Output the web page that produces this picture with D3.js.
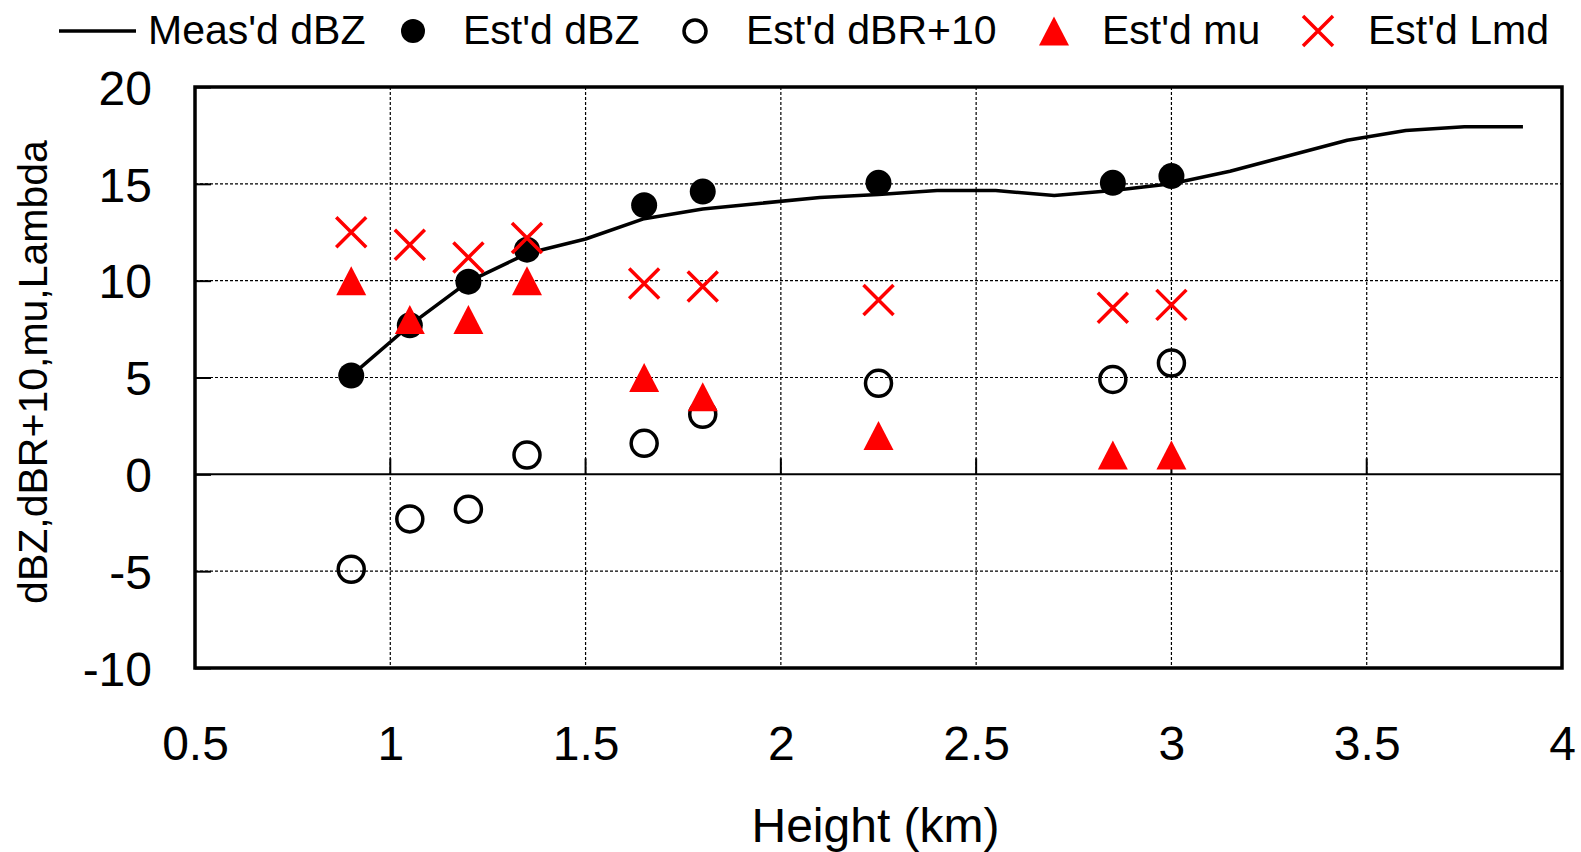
<!DOCTYPE html>
<html>
<head>
<meta charset="utf-8">
<script src="https://cdn.jsdelivr.net/npm/d3@7"></script>
<style>
  body { margin: 0; background: #fff; }
  svg text { font-family: "Liberation Sans", Arial, sans-serif; fill: #000; }
</style>
</head>
<body>
<svg id="chart" width="1581" height="852"></svg>
<script>
// datos
var alturaLinea = [0.9, 1.05, 1.2, 1.35, 1.5, 1.65, 1.8, 1.95, 2.1, 2.25, 2.4, 2.55, 2.7, 2.85, 3.0, 3.15, 3.3, 3.45, 3.6, 3.75, 3.9];
var dbzMedido = [5.1, 7.7, 9.95, 11.4, 12.15, 13.2, 13.7, 14.0, 14.3, 14.45, 14.65, 14.65, 14.4, 14.65, 15.0, 15.65, 16.45, 17.25, 17.75, 17.95, 17.95];

var alturaEst = [0.9, 1.05, 1.2, 1.35, 1.65, 1.8, 2.25, 2.85, 3.0];
var dbzEst = [5.1, 7.7, 9.95, 11.6, 13.9, 14.6, 15.05, 15.05, 15.4];
var dbrEst = [-4.9, -2.3, -1.8, 1.0, 1.6, 3.1, 4.7, 4.9, 5.75];
var muEst = [10, 8, 8, 10, 5, 4, 2, 1, 1];
var lmdEst = [12.5, 11.85, 11.2, 12.2, 9.85, 9.7, 9.0, 8.6, 8.75];

var ticksX = [0.5, 1, 1.5, 2, 2.5, 3, 3.5, 4];
var ticksY = [-10, -5, 0, 5, 10, 15, 20];

var leyenda = ["Meas'd dBZ", "Est'd dBZ", "Est'd dBR+10", "Est'd mu", "Est'd Lmd"];

var margin = {top: 87, right: 19, bottom: 184, left: 195};
var width = 1581 - margin.left - margin.right;
var height = 852 - margin.top - margin.bottom;

var svg = d3.select("#chart");
var g = svg.append("g")
    .attr("transform", "translate(" + margin.left + "," + margin.top + ")");

var x = d3.scaleLinear().domain([0.5, 4]).range([0, width]);
var y = d3.scaleLinear().domain([-10, 20]).range([height, 0]);

// rejilla
g.selectAll(".gridx")
    .data(ticksX.slice(1, -1))
    .enter().append("line")
    .attr("x1", function(d) { return x(d); })
    .attr("x2", function(d) { return x(d); })
    .attr("y1", 0).attr("y2", height)
    .attr("stroke", "#000").attr("stroke-width", 1.2)
    .attr("stroke-dasharray", "3,2");

g.selectAll(".gridy")
    .data(ticksY.filter(function(d) { return d != 0 && d != -10 && d != 20; }))
    .enter().append("line")
    .attr("x1", 0).attr("x2", width)
    .attr("y1", function(d) { return y(d); })
    .attr("y2", function(d) { return y(d); })
    .attr("stroke", "#000").attr("stroke-width", 1.2)
    .attr("stroke-dasharray", "3,2");

// eje horizontal en cero
g.append("line")
    .attr("x1", 0).attr("x2", width)
    .attr("y1", y(0)).attr("y2", y(0))
    .attr("stroke", "#000").attr("stroke-width", 2);

g.selectAll(".tickx")
    .data(ticksX)
    .enter().append("line")
    .attr("x1", function(d) { return x(d); })
    .attr("x2", function(d) { return x(d); })
    .attr("y1", y(0)).attr("y2", y(0) - 16)
    .attr("stroke", "#000").attr("stroke-width", 2);

// eje y
var ejeY = d3.axisLeft(y).tickValues(ticksY).tickSizeInner(-16).tickSizeOuter(0).tickPadding(43)
    .tickFormat(function(d) { return String(d); });
var gy = g.append("g").call(ejeY);
gy.select(".domain").remove();
gy.selectAll("line").attr("stroke", "#000").attr("stroke-width", 2);
gy.selectAll("text")
    .attr("font-size", "48px")
    .attr("font-family", "Liberation Sans, Arial, sans-serif")
    .attr("dy", "0.36em");

// etiquetas x
var ejeX = d3.axisBottom(x).tickValues(ticksX).tickSize(0).tickPadding(58)
    .tickFormat(function(d) { return String(d); });
var gx = g.append("g").attr("transform", "translate(0," + height + ")").call(ejeX);
gx.select(".domain").remove();
gx.selectAll("text")
    .attr("font-size", "48px")
    .attr("font-family", "Liberation Sans, Arial, sans-serif");

// marco
g.append("rect")
    .attr("x", 0).attr("y", 0)
    .attr("width", width).attr("height", height)
    .attr("fill", "none").attr("stroke", "#000").attr("stroke-width", 3.5);

// titulos
svg.append("text")
    .attr("x", margin.left + width / 2 - 3)
    .attr("y", 842)
    .attr("text-anchor", "middle")
    .attr("font-size", "48px")
    .text("Height (km)");

svg.append("text")
    .attr("transform", "translate(47," + 372 + ") rotate(-90)")
    .attr("text-anchor", "middle")
    .attr("font-size", "41px")
    .text("dBZ,dBR+10,mu,Lambda");

// linea medida
var linea = d3.line()
    .x(function(d, i) { return x(alturaLinea[i]); })
    .y(function(d) { return y(d); });

g.append("path")
    .datum(dbzMedido)
    .attr("d", linea)
    .attr("fill", "none")
    .attr("stroke", "#000")
    .attr("stroke-width", 3.5)
    .attr("stroke-linejoin", "round");

function triangulo(cx, cy) {
    return "M" + cx + "," + (cy - 14.5) + "L" + (cx + 15) + "," + (cy + 14.5) + "L" + (cx - 15) + "," + (cy + 14.5) + "Z";
}
function cruz(cx, cy) {
    var s = 15;
    return "M" + (cx - s) + "," + (cy - s) + "L" + (cx + s) + "," + (cy + s) +
           "M" + (cx - s) + "," + (cy + s) + "L" + (cx + s) + "," + (cy - s);
}

// dBZ estimado
g.selectAll(".dbz")
    .data(dbzEst)
    .enter().append("circle")
    .attr("class", "dbz")
    .attr("cx", function(d, i) { return x(alturaEst[i]); })
    .attr("cy", function(d) { return y(d); })
    .attr("r", 13)
    .attr("fill", "#000");

// dBR+10
g.selectAll(".dbr")
    .data(dbrEst)
    .enter().append("circle")
    .attr("class", "dbr")
    .attr("cx", function(d, i) { return x(alturaEst[i]); })
    .attr("cy", function(d) { return y(d); })
    .attr("r", 13)
    .attr("fill", "none")
    .attr("stroke", "#000")
    .attr("stroke-width", 3.5);

// mu
g.selectAll(".mu")
    .data(muEst)
    .enter().append("path")
    .attr("class", "mu")
    .attr("d", function(d, i) { return triangulo(x(alturaEst[i]), y(d)); })
    .attr("fill", "#ff0000");

// Lambda
g.selectAll(".lmd")
    .data(lmdEst)
    .enter().append("path")
    .attr("class", "lmd")
    .attr("d", function(d, i) { return cruz(x(alturaEst[i]), y(d)); })
    .attr("stroke", "#ff0000")
    .attr("stroke-width", 3.5)
    .attr("fill", "none");

// leyenda
var ly = 31;
var ley = svg.append("g");
ley.append("line").attr("x1", 59).attr("x2", 136).attr("y1", ly).attr("y2", ly)
    .attr("stroke", "#000").attr("stroke-width", 3.5);
ley.append("circle").attr("cx", 413).attr("cy", ly).attr("r", 12).attr("fill", "#000");
ley.append("circle").attr("cx", 695).attr("cy", ly).attr("r", 11)
    .attr("fill", "none").attr("stroke", "#000").attr("stroke-width", 3.5);
ley.append("path").attr("d", triangulo(1054, ly)).attr("fill", "#ff0000");
ley.append("path").attr("d", cruz(1318, ly)).attr("stroke", "#ff0000").attr("stroke-width", 3.5);

var posTexto = [148, 463, 746, 1102, 1368];
ley.selectAll(".ltext")
    .data(leyenda)
    .enter().append("text")
    .attr("x", function(d, i) { return posTexto[i]; })
    .attr("y", 44)
    .attr("font-size", "41px")
    .text(function(d) { return d; });
</script>
</body>
</html>
